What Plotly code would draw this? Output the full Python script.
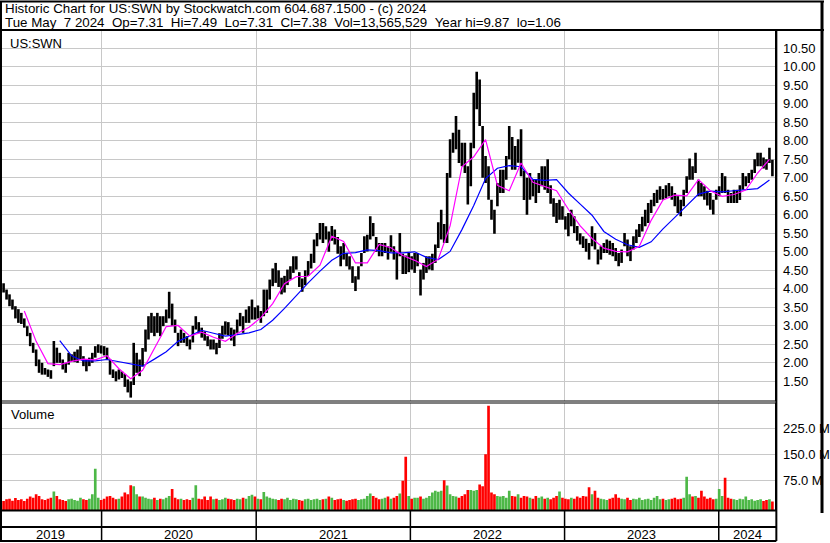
import plotly.graph_objects as go
import pandas as pd

# ---------------- data ----------------
first_week = "2019-05-07"
n_weeks = 262
weeks = pd.date_range(first_week, periods=n_weeks, freq="7D")

price_hi = [
    4.25, 4.15, 3.98, 3.85, 3.71, 3.53, 3.45, 3.35, 3.20, 2.99,
    2.81, 2.54, 2.36, 2.09, 2.00, 1.86, 1.82, 1.80, 2.59, 2.41,
    2.27, 2.09, 2.00, 2.27, 2.23, 2.30, 2.36, 2.45, 2.18, 2.09,
    2.14, 2.27, 2.45, 2.50, 2.47, 2.45, 2.41, 2.09, 1.82, 1.77,
    1.82, 1.77, 1.70, 1.55, 1.50, 2.54, 2.27, 2.09, 2.40, 2.90,
    3.26, 3.35, 3.26, 3.35, 3.26, 3.26, 3.44, 3.92, 3.60, 3.17,
    2.81, 2.90, 2.81, 2.72, 2.63, 3.00, 3.26, 3.10, 2.95, 2.85,
    2.72, 2.63, 2.63, 2.54, 2.80, 3.00, 3.12, 3.10, 2.95, 2.90,
    3.17, 3.35, 3.26, 3.44, 3.53, 3.71, 3.50, 3.55, 3.40, 3.98,
    3.98, 4.25, 4.55, 4.70, 4.50, 4.30, 4.35, 4.52, 4.61, 4.88,
    4.88, 4.45, 4.28, 4.50, 4.75, 4.95, 5.33, 5.51, 5.78, 5.78,
    5.69, 5.55, 5.70, 5.60, 5.40, 5.15, 5.24, 4.97, 4.88, 4.61,
    4.34, 4.61, 4.97, 5.42, 5.46, 5.96, 5.78, 5.40, 5.24, 5.24,
    5.24, 5.15, 5.45, 5.15, 4.97, 5.51, 4.95, 4.90, 4.97, 4.88,
    4.97, 4.97, 4.52, 4.70, 4.88, 4.88, 4.95, 5.20, 5.80, 6.14,
    5.75, 7.13, 8.04, 8.22, 8.67, 8.30, 7.95, 7.95, 7.31, 7.95,
    9.30, 9.87, 9.66, 8.40, 7.59, 7.31, 6.41, 6.14, 6.86, 7.22,
    7.22, 7.59, 8.40, 8.10, 7.86, 8.04, 8.31, 7.20, 7.00, 7.13,
    6.95, 6.95, 7.13, 7.31, 7.31, 7.50, 6.80, 6.45, 6.32, 6.41,
    6.23, 5.96, 6.05, 6.14, 5.96, 5.70, 5.50, 5.42, 5.35, 5.24,
    5.69, 5.51, 5.06, 5.15, 5.24, 5.33, 5.30, 5.24, 5.10, 4.97,
    5.06, 5.51, 5.33, 5.15, 5.42, 5.60, 5.75, 5.95, 6.14, 6.32,
    6.41, 6.59, 6.68, 6.77, 6.70, 6.80, 6.86, 6.77, 6.59, 6.50,
    6.41, 6.68, 7.04, 7.52, 7.31, 7.68, 6.95, 6.86, 6.77, 6.65,
    6.59, 6.41, 6.68, 6.77, 7.13, 7.04, 6.68, 6.59, 6.68, 6.68,
    6.80, 7.13, 7.04, 7.13, 7.22, 7.50, 7.68, 7.68, 7.55, 7.50,
    7.81, 7.49,
]

price_lo = [
    3.95, 3.90, 3.71, 3.53, 3.44, 3.20, 3.08, 3.05, 2.95, 2.72,
    2.45, 2.27, 1.91, 1.73, 1.68, 1.68, 1.62, 1.57, 1.91, 2.00,
    2.00, 1.82, 1.73, 1.95, 2.05, 2.02, 2.00, 2.09, 1.91, 1.77,
    1.91, 2.00, 2.14, 2.27, 2.25, 2.20, 2.09, 1.68, 1.59, 1.50,
    1.55, 1.59, 1.35, 1.20, 1.06, 1.40, 1.73, 1.64, 1.90, 2.30,
    2.63, 2.81, 2.72, 2.81, 2.72, 2.99, 3.08, 3.20, 3.00, 2.81,
    2.45, 2.54, 2.54, 2.45, 2.36, 2.55, 2.90, 2.80, 2.68, 2.60,
    2.45, 2.36, 2.36, 2.23, 2.40, 2.65, 2.76, 2.75, 2.60, 2.45,
    2.81, 2.99, 2.81, 3.08, 3.08, 3.17, 3.17, 3.20, 3.08, 3.26,
    3.35, 3.71, 4.07, 4.16, 4.05, 3.85, 3.90, 4.10, 4.25, 4.43,
    4.52, 4.05, 3.92, 4.10, 4.35, 4.55, 4.70, 5.15, 5.33, 5.24,
    5.33, 5.00, 5.30, 5.20, 4.95, 4.61, 4.79, 4.61, 4.52, 4.16,
    3.94, 4.25, 4.61, 4.97, 5.01, 5.33, 5.42, 5.00, 4.88, 4.88,
    4.97, 4.79, 5.00, 4.79, 4.25, 4.88, 4.40, 4.40, 4.45, 4.52,
    4.43, 4.61, 3.82, 4.25, 4.43, 4.52, 4.50, 4.70, 5.10, 5.33,
    5.24, 5.24, 7.00, 7.68, 7.77, 7.40, 7.31, 7.13, 6.28, 6.77,
    7.80, 8.85, 8.40, 7.00, 6.86, 6.41, 5.87, 5.49, 6.23, 6.59,
    6.59, 6.95, 7.50, 7.22, 7.22, 7.41, 7.04, 6.40, 6.00, 6.41,
    6.50, 6.32, 6.59, 6.77, 6.68, 6.59, 6.30, 5.95, 5.78, 5.87,
    5.87, 5.60, 5.42, 5.69, 5.51, 5.30, 5.20, 5.10, 5.00, 4.79,
    5.15, 5.06, 4.66, 4.79, 4.97, 4.97, 4.92, 4.88, 4.75, 4.61,
    4.70, 5.15, 4.88, 4.75, 5.06, 5.24, 5.40, 5.55, 5.69, 5.78,
    6.05, 6.23, 6.32, 6.41, 6.41, 6.45, 6.50, 6.41, 6.23, 6.05,
    5.96, 6.23, 6.59, 6.95, 6.95, 7.13, 6.50, 6.50, 6.41, 6.25,
    6.14, 6.01, 6.41, 6.50, 6.59, 6.59, 6.32, 6.32, 6.32, 6.32,
    6.40, 6.68, 6.77, 6.86, 6.95, 7.13, 7.31, 7.31, 7.25, 7.22,
    7.40, 7.04,
]

# volume, millions of shares (one bar per week)
volume_m = [
    18, 15, 20, 22, 16, 24, 18, 20, 15, 22,
    28, 25, 35, 30, 20, 18, 22, 25, 43, 30,
    20, 18, 15, 20, 22, 18, 16, 25, 20, 18,
    22, 35, 108, 25, 18, 22, 28, 30, 25, 20,
    22, 28, 40, 35, 61, 58, 35, 28, 28, 25,
    22, 20, 25, 18, 22, 20, 25, 30, 50, 25,
    20, 22, 18, 20, 18, 25, 61, 22, 20, 28,
    18, 28, 20, 22, 18, 20, 25, 22, 20, 18,
    22, 20, 25, 22, 30, 33, 28, 22, 20, 41,
    28, 25, 22, 20, 18, 22, 20, 25, 18, 22,
    20, 18, 16, 20, 22, 18, 20, 22, 18, 20,
    22, 28, 25, 18, 20, 22, 18, 16, 18, 20,
    22, 18, 20, 22, 30, 37, 30, 25, 20, 22,
    25, 28, 22, 25, 30, 37, 74, 143, 30, 22,
    25, 25, 28, 22, 25, 30, 40, 45, 42, 45,
    75, 60, 35, 30, 28, 25, 30, 35, 47, 47,
    45, 47, 63, 58, 150, 290, 40, 35, 30, 28,
    30, 25, 45, 30, 28, 35, 25, 30, 28, 25,
    22, 30, 25, 28, 22, 25, 20, 25, 30, 43,
    25, 22, 20, 25, 22, 28, 25, 30, 28, 55,
    35, 45, 25, 22, 20, 18, 22, 25, 35, 25,
    22, 20, 25, 18, 22, 20, 25, 18, 20, 22,
    18, 25, 30, 20, 22, 18, 20, 22, 25, 20,
    22, 25, 85, 35, 28, 30, 25, 45, 28, 22,
    25, 20, 22, 50, 30, 82, 25, 22, 20, 18,
    22, 20, 28, 18, 20, 16, 18, 20, 15, 18,
    20, 14,
]

# moving averages, sampled every 4th week
ma_fast = [
    None, None, 3.40, 2.58, 1.98, 1.95, 2.04, 2.10, 2.08, 2.19,
    1.84, 1.57, 1.80, 2.40, 2.98, 3.01, 2.72, 2.83, 2.69, 2.58,
    2.79, 2.96, 3.22, 3.60, 4.14, 4.33, 4.34, 4.64, 5.42, 5.28,
    4.70, 4.70, 5.20, 5.11, 4.90, 4.77, 4.60, 4.80, 5.70, 7.30,
    7.57, 8.03, 6.80, 6.65, 7.40, 6.88, 6.77, 6.65, 6.15, 5.70,
    5.36, 5.10, 5.01, 5.00, 5.15, 5.85, 6.40, 6.53, 6.51, 6.95,
    6.65, 6.50, 6.55, 6.67, 7.13, 7.50,
]
ma_slow = [
    None, None, None, None, None, 2.60, 2.19, 2.05, 2.05, 2.09,
    2.03, 1.97, 1.91, 2.10, 2.30, 2.58, 2.74, 2.88, 2.80, 2.72,
    2.76, 2.81, 2.90, 3.15, 3.47, 3.83, 4.16, 4.48, 4.77, 4.96,
    4.98, 5.05, 5.03, 4.97, 4.97, 5.00, 4.85, 4.79, 5.01, 5.60,
    6.25, 6.98, 7.26, 7.33, 7.30, 6.96, 6.93, 6.95, 6.59, 6.29,
    5.99, 5.55, 5.34, 5.19, 5.12, 5.27, 5.62, 5.93, 6.25, 6.56,
    6.64, 6.62, 6.65, 6.67, 6.71, 6.94,
]
ma_dates = weeks[::4]

price_ticks = [1.5, 2.0, 2.5, 3.0, 3.5, 4.0, 4.5, 5.0, 5.5, 6.0,
               6.5, 7.0, 7.5, 8.0, 8.5, 9.0, 9.5, 10.0, 10.5]
volume_ticks_m = [75, 150, 225]
years = [2019, 2020, 2021, 2022, 2023, 2024]

header_1 = "Historic Chart for US:SWN by Stockwatch.com 604.687.1500 - (c) 2024"
header_2 = ("Tue May  7 2024  Op=7.31  Hi=7.49  Lo=7.31  Cl=7.38  "
            "Vol=13,565,529  Year hi=9.87  lo=1.06")
symbol = "US:SWN"

# ---------------- layout constants ----------------
W, H = 830, 543
FONT = "Liberation Sans, Arial, sans-serif"
GRID = "#c8c8c8"
x_start = pd.Timestamp("2019-05-05 12:00")
x_end = pd.Timestamp("2024-05-14")
vol_floor = -10.7e6   # bottom of the volume panel (bars start there)


def px(x):
    return x / W


def py(y):
    return 1 - y / H


# ---------------- traces ----------------
seg_x, seg_y = [], []
for d, h, l in zip(weeks, price_hi, price_lo):
    seg_x += [d, d, None]
    seg_y += [l, h, None]

mid = [(h + l) / 2 for h, l in zip(price_hi, price_lo)]
vol_colors = ["#4db847"] + [
    "#4db847" if mid[i] >= mid[i - 1] else "#ff0000" for i in range(1, len(mid))
]
vol_abs = [v * 1e6 for v in volume_m]

fig = go.Figure()
fig.add_trace(go.Scatter(x=seg_x, y=seg_y, mode="lines",
                         line=dict(color="black", width=2.6),
                         xaxis="x", yaxis="y", hoverinfo="skip"))
fig.add_trace(go.Scatter(x=ma_dates, y=ma_slow, mode="lines",
                         line=dict(color="#0000ff", width=1.2),
                         xaxis="x", yaxis="y", connectgaps=False))
fig.add_trace(go.Scatter(x=ma_dates, y=ma_fast, mode="lines",
                         line=dict(color="#ff00ff", width=1.2),
                         xaxis="x", yaxis="y", connectgaps=False))
fig.add_trace(go.Bar(x=weeks, y=[v - vol_floor for v in vol_abs], base=vol_floor,
                     marker=dict(color=vol_colors, line=dict(width=0)),
                     width=6.3 * 86400000, xaxis="x2", yaxis="y2"))

xcommon = dict(type="date", range=[x_start, x_end], domain=[0, px(781)],
               showgrid=True, gridcolor=GRID, gridwidth=1,
               tick0="2020-01-01", dtick="M12", showticklabels=False,
               ticks="", zeroline=False, showline=False)

fig.update_layout(
    width=W, height=H,
    margin=dict(l=0, r=0, t=0, b=0),
    paper_bgcolor="white", plot_bgcolor="white",
    showlegend=False, hovermode=False,
    font=dict(family=FONT, size=13, color="black"),
    xaxis=dict(anchor="y", **xcommon),
    xaxis2=dict(anchor="y2", **xcommon),
    yaxis=dict(domain=[py(401), py(30)], range=[0.968, 10.995],
               side="right", tickvals=price_ticks, tickformat=".2f",
               showgrid=True, gridcolor=GRID, zeroline=False,
               showline=True, linecolor="black", linewidth=2,
               ticks="outside", ticklen=3, tickcolor="rgba(0,0,0,0)",
               tickfont=dict(size=13, family=FONT, color="black")),
    yaxis2=dict(domain=[py(510), py(403)], range=[vol_floor, 298e6],
                side="right", tickvals=[v * 1e6 for v in volume_ticks_m],
                ticktext=[f"{v:.1f} M" for v in volume_ticks_m],
                showgrid=True, gridcolor=GRID, zeroline=False,
                showline=True, linecolor="black", linewidth=2,
                ticks="outside", ticklen=3, tickcolor="rgba(0,0,0,0)",
                tickfont=dict(size=13, family=FONT, color="black")),
)

# ---------------- frame shapes ----------------
shapes = []


def hline(y, x0, x1, w=2):
    shapes.append(dict(type="line", xref="paper", yref="paper",
                       x0=px(x0), x1=px(x1), y0=py(y), y1=py(y),
                       line=dict(color="black", width=w), layer="above"))


def vline(x, y0, y1, w=2):
    shapes.append(dict(type="line", xref="paper", yref="paper",
                       x0=px(x), x1=px(x), y0=py(y0), y1=py(y1),
                       line=dict(color="black", width=w), layer="above"))


hline(1.5, 0, 830)
hline(30, 0, 830)
hline(401, 0, 782, 1)
hline(403, 0, 782, 1)
hline(510.5, 0, 782)
hline(527, 0, 782)
hline(541, 0, 782)
vline(1, 1, 541)
vline(828, 1, 513, 3)
vline(782, 30, 541)

for yr in years[1:]:
    shapes.append(dict(type="line", xref="x", yref="paper",
                       x0=pd.Timestamp(f"{yr}-01-01"), x1=pd.Timestamp(f"{yr}-01-01"),
                       y0=py(541), y1=py(510.5),
                       line=dict(color="black", width=1.5), layer="above"))
fig.update_layout(shapes=shapes)

# ---------------- annotations ----------------
ann = []


def nb(s):
    return s.replace(" ", "\u00a0")


ann.append(dict(text=nb(header_1), xref="paper", yref="paper", x=px(3), y=py(8.5),
                xanchor="left", yanchor="middle", showarrow=False,
                font=dict(size=13.33, family=FONT, color="black")))
ann.append(dict(text=nb(header_2), xref="paper", yref="paper", x=px(3), y=py(22.5),
                xanchor="left", yanchor="middle", showarrow=False,
                font=dict(size=13.33, family=FONT, color="black")))
ann.append(dict(text=symbol, xref="paper", yref="paper", x=px(8), y=py(43),
                xanchor="left", yanchor="middle", showarrow=False,
                font=dict(size=13, family=FONT, color="black")))
ann.append(dict(text="Volume", xref="paper", yref="paper", x=px(9), y=py(414),
                xanchor="left", yanchor="middle", showarrow=False,
                font=dict(size=13, family=FONT, color="black")))

for yr in years:
    a = max(pd.Timestamp(f"{yr}-01-01"), x_start)
    b = min(pd.Timestamp(f"{yr + 1}-01-01"), x_end)
    ann.append(dict(text=str(yr), xref="x", yref="paper", x=a + (b - a) / 2,
                    y=py(534), xanchor="center", yanchor="middle", showarrow=False,
                    font=dict(size=13, family=FONT, color="black")))
fig.update_layout(annotations=ann)

fig.write_html(
    "out.html",
    config={"displayModeBar": False},
    post_script="document.body.style.margin='0';document.body.style.padding='0';",
)
